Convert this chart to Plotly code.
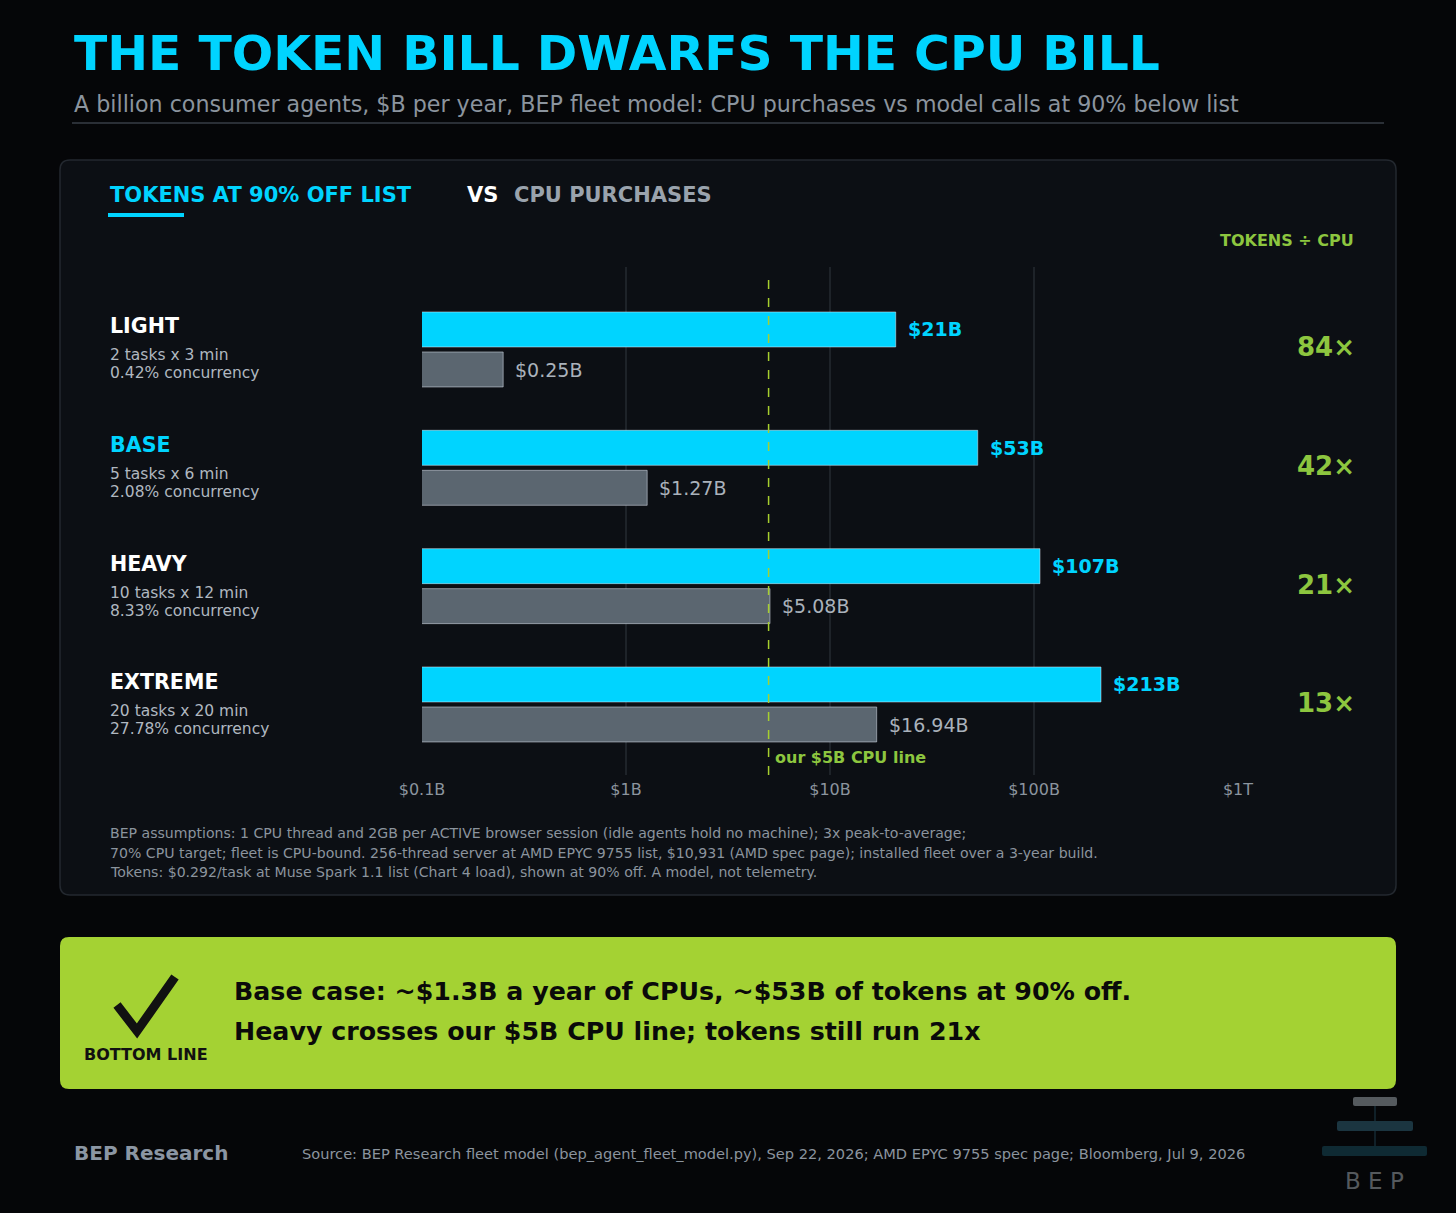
import math
import plotly.graph_objects as go

W, H = 1456, 1213

# data
SCENARIOS = ["LIGHT", "BASE", "HEAVY", "EXTREME"]
TASKS = ["2 tasks x 3 min", "5 tasks x 6 min", "10 tasks x 12 min", "20 tasks x 20 min"]
CONCURRENCY = ["0.42% concurrency", "2.08% concurrency", "8.33% concurrency", "27.78% concurrency"]
TOKENS_B = [21, 53, 107, 213]
CPU_B = [0.25, 1.27, 5.08, 16.94]
RATIO = [84, 42, 21, 13]
TOKEN_LABELS = ["$21B", "$53B", "$107B", "$213B"]
CPU_LABELS = ["$0.25B", "$1.27B", "$5.08B", "$16.94B"]
TICK_VALS = [0.1, 1, 10, 100, 1000]
TICK_TEXT = ["$0.1B", "$1B", "$10B", "$100B", "$1T"]
CPU_LINE_B = 5

CYAN = "#00d4ff"
GREY_BAR = "#5b6670"
LIME = "#a4d233"
LIME_TXT = "#8dc63f"
BG = "#050608"
PANEL = "#0c0f14"
MUTED = "#8b949e"
FONT = "DejaVu Sans"


def px(x):
    return x / W


def py(y):
    return 1 - y / H


annotations = []
shapes = []


def text(x, y, s, size, color, bold=False, anchor="left"):
    if bold:
        s = "<b>" + s + "</b>"
    annotations.append(dict(
        x=px(x), y=py(y), xref="paper", yref="paper", text=s, showarrow=False,
        xanchor=anchor, yanchor="middle", font=dict(family=FONT, size=size, color=color),
    ))


def rrect(x0, y0, x1, y1, r, fill, line=None):
    # rounded rectangle in pixel coords -> paper path
    def p(x, y):
        return "%.5f,%.5f" % (px(x), py(y))
    path = ("M " + p(x0 + r, y0) + " L " + p(x1 - r, y0) + " Q " + p(x1, y0) + " " + p(x1, y0 + r)
            + " L " + p(x1, y1 - r) + " Q " + p(x1, y1) + " " + p(x1 - r, y1)
            + " L " + p(x0 + r, y1) + " Q " + p(x0, y1) + " " + p(x0, y1 - r)
            + " L " + p(x0, y0 + r) + " Q " + p(x0, y0) + " " + p(x0 + r, y0) + " Z")
    shapes.append(dict(type="path", path=path, xref="paper", yref="paper", fillcolor=fill,
                       line=dict(color=line or fill, width=1.5 if line else 0), layer="below"))


def rect(x0, y0, x1, y1, fill):
    shapes.append(dict(type="rect", xref="paper", yref="paper", x0=px(x0), x1=px(x1),
                       y0=py(y0), y1=py(y1), fillcolor=fill, line=dict(width=0), layer="below"))


fig = go.Figure()
fig.add_trace(go.Bar(y=SCENARIOS, x=TOKENS_B, orientation="h", marker=dict(color=CYAN),
                     name="Tokens", hoverinfo="x"))
fig.add_trace(go.Bar(y=SCENARIOS, x=CPU_B, orientation="h", marker=dict(color=GREY_BAR),
                     name="CPU", hoverinfo="x"))

# header
text(72, 54, "THE TOKEN BILL DWARFS THE CPU BILL", 48.8, CYAN, bold=True)
text(72, 104, "A billion consumer agents, $B per year, BEP fleet model: CPU purchases vs model calls at 90% below list",
     22.2, MUTED)
shapes.append(dict(type="line", xref="paper", yref="paper", x0=px(72), x1=px(1384), y0=py(123), y1=py(123),
                   line=dict(color="#2a2f36", width=2)))

# panel
rrect(60, 160, 1396, 895, 10, PANEL, line="#23282f")
text(108, 195, "TOKENS AT 90% OFF LIST", 21, CYAN, bold=True)
rect(108, 213, 184, 217, CYAN)
text(465, 195, "VS", 21, "#ffffff", bold=True)
text(512, 195, "CPU PURCHASES", 21, "#9aa3ad", bold=True)
text(1356, 241, "TOKENS ÷ CPU", 16, LIME_TXT, bold=True, anchor="right")

# left labels and ratios
group_y = [347, 466, 585, 703]
for i, name in enumerate(SCENARIOS):
    gy = group_y[i]
    text(108, gy - 21, name, 20.6, CYAN if name == "BASE" else "#ffffff", bold=True)
    text(108, gy + 8, TASKS[i], 15.5, "#b0b8c0")
    text(108, gy + 26, CONCURRENCY[i], 15.5, "#b0b8c0")
    text(1357, gy, "%d×" % RATIO[i], 26, LIME_TXT, bold=True, anchor="right")
    annotations.append(dict(x=math.log10(TOKENS_B[i]), y=i - 0.17, xref="x", yref="y",
                            text="<b>" + TOKEN_LABELS[i] + "</b>", showarrow=False, xanchor="left",
                            xshift=10, font=dict(family=FONT, size=19, color=CYAN)))
    annotations.append(dict(x=math.log10(CPU_B[i]), y=i + 0.17, xref="x", yref="y",
                            text=CPU_LABELS[i], showarrow=False, xanchor="left",
                            xshift=10, font=dict(family=FONT, size=19, color="#aab2bb")))

# $5B CPU line (shapes take raw values on the log axis)
shapes.append(dict(type="line", xref="x", yref="paper", x0=CPU_LINE_B, x1=CPU_LINE_B,
                   y0=py(775), y1=py(272), line=dict(color="#a6cf2e", width=1.5, dash="dash")))
annotations.append(dict(x=math.log10(CPU_LINE_B), y=py(757), xref="x", yref="paper",
                        text="<b>our $5B CPU line</b>", showarrow=False, xanchor="left", yanchor="middle",
                        xshift=4, font=dict(family=FONT, size=16, color=LIME_TXT)))

# footnote
notes = [
    "BEP assumptions: 1 CPU thread and 2GB per ACTIVE browser session (idle agents hold no machine); 3x peak-to-average;",
    "70% CPU target; fleet is CPU-bound. 256-thread server at AMD EPYC 9755 list, $10,931 (AMD spec page); installed fleet over a 3-year build.",
    "Tokens: $0.292/task at Muse Spark 1.1 list (Chart 4 load), shown at 90% off. A model, not telemetry.",
]
for k, line in enumerate(notes):
    text(108, 833 + k * 19.5, line, 14.1, MUTED)

# bottom line box
rrect(60, 937, 1396, 1089, 9, LIME)
shapes.append(dict(type="path", xref="paper", yref="paper",
                   path="M %.5f,%.5f L %.5f,%.5f L %.5f,%.5f" % (px(117), py(1005), px(137), py(1031),
                                                               px(175), py(977)),
                   line=dict(color="#111111", width=9)))
text(146, 1054, "BOTTOM LINE", 16, "#111111", bold=True, anchor="center")
text(232, 991, "Base case: ~$1.3B a year of CPUs, ~$53B of tokens at 90% off.", 25.3, "#0a0a0a", bold=True)
text(232, 1031, "Heavy crosses our $5B CPU line; tokens still run 21x", 25.3, "#0a0a0a", bold=True)

# footer
text(72, 1153, "BEP Research", 20, "#8b96a3", bold=True)
text(300, 1153, "Source: BEP Research fleet model (bep_agent_fleet_model.py), Sep 22, 2026; AMD EPYC 9755 spec page; Bloomberg, Jul 9, 2026",
     14.6, MUTED)

# logo
shapes.append(dict(type="line", xref="paper", yref="paper", x0=px(1375), x1=px(1375), y0=py(1100), y1=py(1152),
                   line=dict(color="#102028", width=2), layer="below"))
rrect(1353, 1097, 1397, 1106, 2, "#555a5e")
rrect(1337, 1121, 1413, 1131, 2, "#1b3540")
rrect(1322, 1146, 1427, 1156, 2, "#0f2a33")
text(1374, 1181, "B E P", 23, "#55595d", anchor="center")

fig.update_layout(
    width=W, height=H,
    margin=dict(l=0, r=0, t=0, b=0, autoexpand=False),
    paper_bgcolor=BG, plot_bgcolor="rgba(0,0,0,0)",
    barmode="group", bargap=0.324, bargroupgap=0.125,
    showlegend=False,
    annotations=annotations, shapes=shapes,
    font=dict(family=FONT, color=MUTED),
    xaxis=dict(type="log", range=[-1, 3], domain=[px(422), px(1238)], automargin=False,
               tickvals=TICK_VALS, ticktext=TICK_TEXT, showgrid=True, gridcolor="#1e2329", gridwidth=1.5,
               zeroline=False, showline=False, ticks="", tickfont=dict(family=FONT, size=16, color=MUTED),
               ticklabelstandoff=3),
    yaxis=dict(type="category", range=[3.596, -0.697], domain=[py(775), py(267)], showticklabels=False,
               showgrid=False, zeroline=False, ticks="", automargin=False),
)

fig.write_html("out.html", config={"displayModeBar": False},
               post_script="document.body.style.margin='0';document.body.style.background='%s';" % BG)
